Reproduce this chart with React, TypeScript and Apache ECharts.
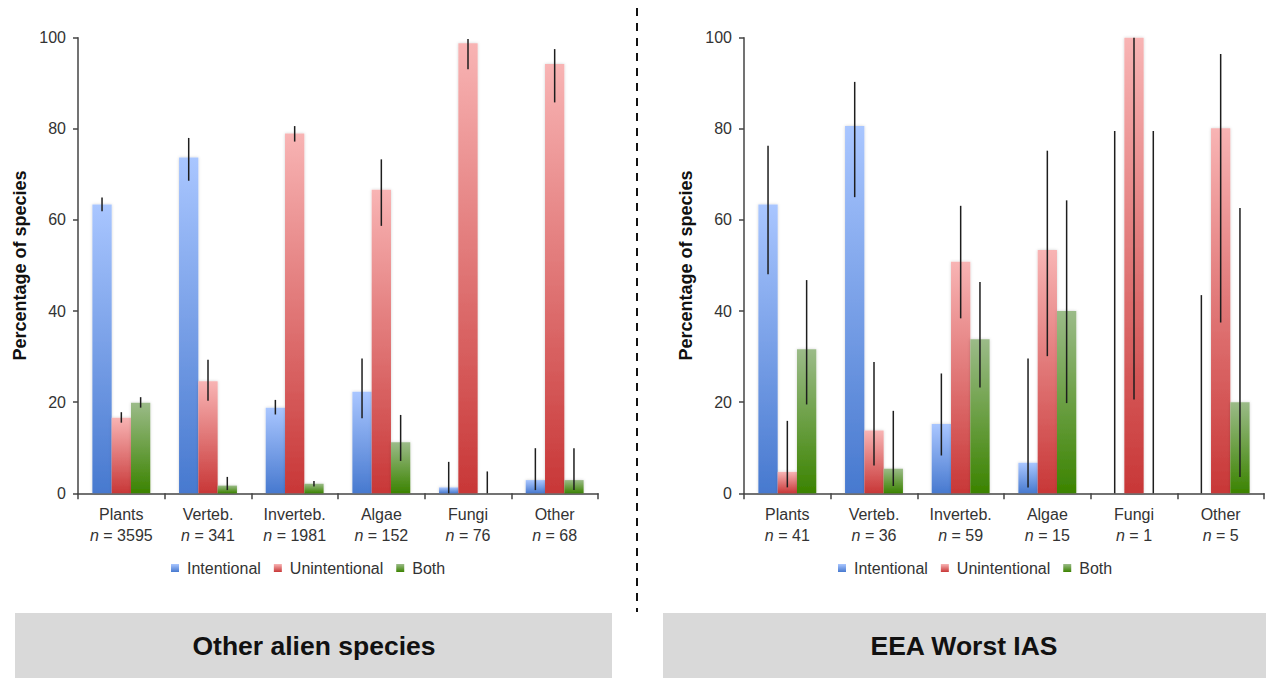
import React, { useEffect, useRef } from "react";
import * as echarts from "echarts";

const categories = ["Plants", "Verteb.", "Inverteb.", "Algae", "Fungi", "Other"];
const seriesNames = ["Intentional", "Unintentional", "Both"];

// Panel 1: Other alien species
const leftN = [3595, 341, 1981, 152, 76, 68];
const leftIntentional = [63.4, 73.7, 18.8, 22.3, 1.3, 2.9];
const leftIntentionalLow = [61.9, 68.6, 17.3, 16.5, 0, 0.7];
const leftIntentionalHigh = [64.9, 78.0, 20.5, 29.6, 6.9, 9.9];
const leftUnintentional = [16.6, 24.6, 79.0, 66.6, 98.8, 94.2];
const leftUnintentionalLow = [15.5, 20.3, 77.2, 58.7, 93.1, 85.8];
const leftUnintentionalHigh = [17.8, 29.3, 80.6, 73.3, 99.7, 97.5];
const leftBoth = [19.9, 1.7, 2.1, 11.2, 0, 2.9];
const leftBothLow = [18.8, 0.7, 1.5, 7.1, 0, 0.7];
const leftBothHigh = [21.1, 3.6, 2.7, 17.2, 4.8, 9.9];

// Panel 2: EEA Worst IAS
const rightN = [41, 36, 59, 15, 1, 5];
const rightIntentional = [63.4, 80.6, 15.2, 6.7, 0, 0];
const rightIntentionalLow = [48.1, 65.0, 8.3, 1.3, 0, 0];
const rightIntentionalHigh = [76.3, 90.3, 26.3, 29.6, 79.5, 43.5];
const rightUnintentional = [4.7, 13.8, 50.8, 53.4, 100, 80.1];
const rightUnintentionalLow = [1.3, 6.1, 38.4, 30.1, 20.6, 37.5];
const rightUnintentionalHigh = [15.9, 28.8, 63.1, 75.2, 100, 96.4];
const rightBoth = [31.6, 5.4, 33.8, 40.0, 0, 20.0];
const rightBothLow = [19.5, 1.6, 23.2, 19.8, 0, 3.6];
const rightBothHigh = [46.8, 18.1, 46.4, 64.3, 79.5, 62.6];

const yTicks = { min: 0, max: 100, interval: 20 };
const panelTitles = ["Other alien species", "EEA Worst IAS"];

const FONT = 'Arial, "Liberation Sans", Helvetica, sans-serif';
const BAR_W = 19.3;

const grad = (top: string, bottom: string) =>
  new echarts.graphic.LinearGradient(0, 0, 0, 1, [
    { offset: 0, color: top },
    { offset: 1, color: bottom },
  ]);

const colors = [
  ["#a9c6ff", "#4779cf"],
  ["#f8b4b4", "#c83737"],
  ["#9bbb88", "#3b8300"],
];

function buildPanel(
  p: number,
  values: number[][],
  lows: number[][],
  highs: number[][]
) {
  const out: any[] = [];
  values.forEach((vals, s) => {
    out.push({
      type: "bar",
      name: seriesNames[s],
      xAxisIndex: p,
      yAxisIndex: p,
      data: vals,
      barWidth: BAR_W,
      barGap: "0%",
      itemStyle: {
        color: grad(colors[s][0], colors[s][1]),
        shadowColor: "rgba(0,0,0,0.18)",
        shadowBlur: 3,
      },
      z: 2,
    });
  });
  values.forEach((_, s) => {
    const offset = (s - 1) * BAR_W;
    out.push({
      type: "custom",
      name: seriesNames[s] + " error",
      xAxisIndex: p,
      yAxisIndex: p,
      z: 5,
      silent: true,
      data: categories.map((_c, i) => [i, lows[s][i], highs[s][i]]),
      renderItem: (params: any, api: any) => {
        const lo = api.coord([api.value(0), api.value(1)]);
        const hi = api.coord([api.value(0), api.value(2)]);
        const x = lo[0] + offset;
        return {
          type: "line",
          shape: { x1: x, y1: lo[1], x2: x, y2: hi[1] },
          style: { stroke: "#1e1e1e", lineWidth: 1.5 },
        };
      },
    });
  });
  return out;
}

export default function App() {
  const ref = useRef<HTMLDivElement>(null);
  useEffect(() => {
    if (!ref.current) return;
    const chart = echarts.init(ref.current, undefined, { renderer: "svg" });
    const Ns = [leftN, rightN];
    const grids = [
      { left: 78, right: 668, top: 37.7, bottom: 184.7 },
      { left: 744, right: 2, top: 37.7, bottom: 184.7 },
    ];
    const xAxes = [0, 1].map((p) => ({
      type: "category",
      gridIndex: p,
      data: categories,
      axisLine: { lineStyle: { color: "#444", width: 1.5 } },
      axisTick: { show: true, length: 6, lineStyle: { color: "#444", width: 1.5 } },
      axisLabel: {
        margin: 11,
        interval: 0,
        formatter: (v: string, i: number) => `{c|${v}}\n{i|n}{c| = ${Ns[p][i]}}`,
        rich: {
          c: { fontFamily: FONT, fontSize: 16, color: "#333", lineHeight: 21 },
          i: { fontFamily: FONT, fontSize: 16, color: "#333", lineHeight: 21, fontStyle: "italic" },
        },
      },
    }));
    const yAxes = [0, 1].map((p) => ({
      type: "value",
      gridIndex: p,
      ...yTicks,
      name: "Percentage of species",
      nameLocation: "middle",
      nameGap: 49,
      nameTextStyle: { fontFamily: FONT, fontSize: 18, fontWeight: "bold", color: "#111" },
      splitLine: { show: false },
      axisLine: { show: true, lineStyle: { color: "#444", width: 1.5 } },
      axisTick: { show: true, length: 5, lineStyle: { color: "#444", width: 1.5 } },
      axisLabel: { margin: 12, fontFamily: FONT, fontSize: 16, color: "#333" },
    }));
    const legendBase = {
      data: seriesNames,
      icon: "rect",
      itemWidth: 8,
      itemHeight: 8,
      itemGap: 13,
      padding: 0,
      top: 560,
      textStyle: { fontFamily: FONT, fontSize: 16, color: "#333", padding: [0, 0, 0, 3] },
      selectedMode: false,
    };
    const series = [
      ...buildPanel(
        0,
        [leftIntentional, leftUnintentional, leftBoth],
        [leftIntentionalLow, leftUnintentionalLow, leftBothLow],
        [leftIntentionalHigh, leftUnintentionalHigh, leftBothHigh]
      ),
      ...buildPanel(
        1,
        [rightIntentional, rightUnintentional, rightBoth],
        [rightIntentionalLow, rightUnintentionalLow, rightBothLow],
        [rightIntentionalHigh, rightUnintentionalHigh, rightBothHigh]
      ),
    ];
    chart.setOption({
      animation: false,
      backgroundColor: "#ffffff",
      grid: grids,
      xAxis: xAxes,
      yAxis: yAxes,
      legend: [
        { ...legendBase, left: 171 },
        { ...legendBase, left: 838 },
      ],
      series,
      graphic: [
        {
          type: "line",
          shape: { x1: 637, y1: 8, x2: 637, y2: 612 },
          style: { stroke: "#111", lineWidth: 2, lineDash: [8, 7] },
        },
        { type: "rect", shape: { x: 15, y: 613, width: 597, height: 65 }, style: { fill: "#d9d9d9" } },
        { type: "rect", shape: { x: 663, y: 613, width: 603, height: 65 }, style: { fill: "#d9d9d9" } },
        {
          type: "text",
          x: 314,
          y: 646,
          style: {
            text: panelTitles[0],
            font: `bold 26.5px ${FONT}`,
            fill: "#111",
            align: "center",
            verticalAlign: "middle",
          },
        },
        {
          type: "text",
          x: 964,
          y: 646,
          style: {
            text: panelTitles[1],
            font: `bold 26.5px ${FONT}`,
            fill: "#111",
            align: "center",
            verticalAlign: "middle",
          },
        },
      ],
    });
    return () => chart.dispose();
  }, []);
  return (
    <div
      ref={ref}
      style={{ position: "absolute", left: 0, top: 0, width: 1266, height: 678 }}
    />
  );
}
